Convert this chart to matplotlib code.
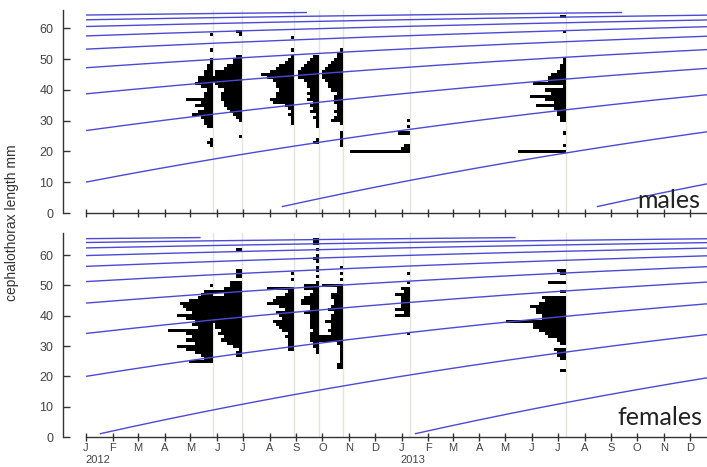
import numpy as np
import matplotlib
matplotlib.use("Agg")
import matplotlib.pyplot as plt
import matplotlib.transforms as mtransforms
import pandas as pd

# ------------------------------------------------------------------ data
ORIGIN = pd.Timestamp("2012-01-01")
SAMPLE_DATES = ["2012-05-27", "2012-06-30", "2012-08-29", "2012-09-27",
                "2012-10-25", "2013-01-11", "2013-07-11"]

# length-frequency (cephalothorax length mm -> count) per sample, males
MALE_HIST = [
    {58: 1, 53: 1, 50: 1, 49: 1, 48: 2, 47: 2, 46: 3, 45: 3, 44: 5, 43: 5, 42: 6, 41: 4,
     40: 2, 39: 3, 38: 3, 37: 9, 36: 4, 35: 6, 34: 3, 33: 5, 32: 7, 31: 4, 30: 3, 29: 3,
     28: 2, 24: 1, 23: 2, 22: 1},
    {59: 2, 58: 1, 51: 2, 50: 3, 49: 3, 48: 5, 47: 6, 46: 9, 45: 9, 44: 10, 43: 10, 42: 9,
     41: 8, 40: 6, 39: 7, 38: 7, 37: 7, 36: 6, 35: 6, 34: 5, 33: 4, 32: 3, 31: 2, 30: 1, 25: 1},
    {57: 1, 53: 1, 51: 1, 50: 2, 49: 3, 48: 5, 47: 6, 46: 8, 45: 11, 44: 9, 43: 7, 42: 6,
     41: 6, 40: 5, 39: 6, 38: 6, 37: 8, 36: 7, 35: 3, 34: 2, 33: 1, 32: 2, 31: 1, 30: 1, 29: 1},
    {51: 2, 50: 3, 49: 4, 48: 5, 47: 6, 46: 7, 45: 7, 44: 7, 43: 5, 42: 4, 41: 4, 40: 3,
     39: 4, 38: 3, 37: 4, 36: 2, 35: 3, 34: 2, 33: 3, 32: 1, 31: 2, 30: 1, 29: 1, 28: 1,
     24: 1, 23: 2},
    {53: 1, 52: 2, 51: 2, 50: 3, 49: 4, 48: 5, 47: 6, 46: 7, 45: 7, 44: 7, 43: 6, 42: 5,
     41: 5, 40: 4, 39: 2, 38: 3, 37: 3, 36: 3, 35: 2, 34: 2, 33: 3, 32: 2, 31: 3, 30: 4,
     29: 1, 26: 1, 25: 1, 24: 1, 23: 1, 22: 1},
    {30: 1, 28: 1, 26: 4, 22: 2, 21: 3, 20: 20},
    {64: 2, 59: 1, 50: 1, 49: 1, 48: 2, 47: 2, 46: 3, 45: 5, 44: 6, 43: 6, 42: 11, 41: 1,
     40: 7, 39: 5, 38: 12, 37: 7, 36: 4, 35: 10, 34: 4, 33: 3, 32: 3, 31: 2, 30: 2,
     26: 1, 22: 1, 20: 16},
]

# length-frequency per sample, females
FEMALE_HIST = [
    {50: 1, 48: 3, 47: 4, 46: 5, 45: 8, 44: 11, 43: 10, 42: 9, 41: 7, 40: 12, 39: 9,
     38: 6, 37: 7, 36: 5, 35: 15, 34: 9, 33: 7, 32: 9, 31: 6, 30: 12, 29: 9, 28: 6,
     27: 4, 26: 3, 25: 8},
    {62: 2, 55: 2, 54: 2, 53: 2, 51: 4, 50: 4, 49: 6, 48: 10, 47: 6, 46: 10, 45: 10,
     44: 10, 43: 10, 42: 10, 41: 10, 40: 10, 39: 10, 38: 10, 37: 9, 36: 9, 35: 7, 34: 8,
     33: 6, 32: 7, 31: 5, 30: 3, 29: 1, 28: 2, 27: 2},
    {54: 1, 52: 1, 49: 9, 48: 2, 47: 3, 46: 6, 45: 7, 44: 9, 43: 5, 42: 3, 41: 6, 40: 5,
     39: 4, 38: 7, 37: 6, 36: 5, 35: 4, 34: 2, 33: 3, 32: 2, 31: 2, 30: 2, 29: 2},
    {65: 2, 64: 2, 62: 1, 60: 1, 59: 2, 58: 1, 56: 1, 55: 1, 53: 1, 51: 1, 50: 5, 49: 5,
     48: 2, 47: 3, 46: 5, 45: 6, 44: 6, 43: 3, 42: 3, 41: 5, 40: 3, 39: 3, 38: 3, 37: 3,
     36: 3, 35: 2, 34: 3, 33: 3, 32: 3, 31: 2, 30: 2, 29: 1, 28: 1},
    {56: 1, 54: 1, 52: 1, 50: 7, 49: 2, 48: 2, 47: 4, 46: 4, 45: 3, 44: 3, 43: 4, 42: 5,
     41: 3, 40: 4, 39: 4, 38: 6, 37: 4, 36: 4, 35: 5, 34: 4, 33: 8, 32: 9, 31: 2, 30: 1,
     29: 1, 28: 1, 27: 1, 26: 1, 25: 1, 24: 2, 23: 2},
    {54: 1, 51: 1, 49: 3, 48: 2, 47: 5, 46: 3, 45: 3, 44: 3, 43: 3, 42: 5, 41: 2, 40: 5, 34: 1},
    {55: 3, 54: 2, 51: 6, 48: 2, 46: 8, 45: 7, 44: 9, 43: 12, 42: 10, 41: 10, 40: 8,
     39: 8, 38: 20, 37: 11, 36: 11, 35: 9, 34: 7, 33: 6, 32: 3, 31: 2, 29: 4, 28: 3,
     27: 3, 26: 2, 22: 2},
]

# von Bertalanffy growth curves (one line per yearly cohort)
MALE_LINF, MALE_K, MALE_A0 = 68.2, 0.34, -0.09
MALE_FIRST_BIRTH, MALE_SPAN_YEARS = "2012-08-15", 9.08
FEMALE_LINF, FEMALE_K, FEMALE_A0 = 68.5, 0.345, -0.045
FEMALE_FIRST_BIRTH, FEMALE_SPAN_YEARS = "2012-01-17", 9.32

Y_TICKS = [0, 10, 20, 30, 40, 50, 60]
MONTH_LETTERS = list("JFMAMJJASOND") * 2
YEAR_LABELS = ["2012", "2013"]
PANEL_NAMES = ["males", "females"]
Y_LABEL = "cephalothorax length mm"

# ------------------------------------------------------------------ style
BLUE = "#4a4ad6"
GREY_V = "#e4e4da"
AX_COL = "#333333"
TXT_COL = "#444444"
DAYS_PER_COUNT = 3.5
FONT = ["Liberation Sans", "DejaVu Sans"]
plt.rcParams["font.family"] = FONT


def day(s):
    return (pd.Timestamp(s) - ORIGIN).days


W, H = 707, 467
fig = plt.figure(figsize=(W / 100, H / 100), dpi=100)

X_LEFT = -26.7
X_RIGHT = 720.0
PX_PER_DAY = 0.8625
ax_px_left, ax_px_right = 63, 707

panels = [
    dict(top=10, bottom=213, ytop=66.0, hist=MALE_HIST, linf=MALE_LINF, k=MALE_K, a0=MALE_A0,
         birth=MALE_FIRST_BIRTH, span=MALE_SPAN_YEARS, name=PANEL_NAMES[0], name_px=637, name_y=1.6),
    dict(top=233, bottom=437, ytop=67.3, hist=FEMALE_HIST, linf=FEMALE_LINF, k=FEMALE_K,
         a0=FEMALE_A0, birth=FEMALE_FIRST_BIRTH, span=FEMALE_SPAN_YEARS, name=PANEL_NAMES[1],
         name_px=617, name_y=4.0),
]

month_starts = pd.date_range("2012-01-01", "2013-12-01", freq="MS")
month_days = [(m - ORIGIN).days for m in month_starts]
sample_days = [day(s) for s in SAMPLE_DATES]

axes = []
for i, p in enumerate(panels):
    ax = fig.add_axes([ax_px_left / W, 1 - p["bottom"] / H,
                       (ax_px_right - ax_px_left) / W, (p["bottom"] - p["top"]) / H])
    axes.append(ax)
    ax.set_xlim(X_LEFT, X_RIGHT)
    ax.set_ylim(0, p["ytop"])

    # sample date lines
    for d in sample_days:
        ax.axvline(d, color=GREY_V, lw=1.0, zorder=1)

    # histograms (bars extend left from the sample date)
    for d, hist in zip(sample_days, p["hist"]):
        lens = np.array(list(hist.keys()), dtype=float)
        cnts = np.array(list(hist.values()), dtype=float)
        ax.barh(lens, -cnts * DAYS_PER_COUNT, left=d, height=1.0,
                color="black", linewidth=0, zorder=2)

    # growth curves
    b0 = day(p["birth"])
    for n in range(-10, 3):
        birth = b0 + n * 365.25
        t0 = max(birth, 0.0)
        t1 = min(birth + p["span"] * 365.25, X_RIGHT + 30)
        if t1 <= t0:
            continue
        t = np.linspace(t0, t1, 200)
        age = (t - birth) / 365.25
        L = p["linf"] * (1 - np.exp(-p["k"] * (age - p["a0"])))
        ax.plot(t, L, color=BLUE, lw=1.0, zorder=3, solid_capstyle="butt")

    # axes styling
    for s in ["top", "right"]:
        ax.spines[s].set_visible(False)
    ax.spines["left"].set_color(AX_COL)
    ax.spines["bottom"].set_color(AX_COL)
    ax.spines["left"].set_linewidth(1.0)
    ax.spines["bottom"].set_linewidth(1.0)
    ax.spines["bottom"].set_bounds(0, X_RIGHT)

    ax.set_yticks(Y_TICKS)
    ax.tick_params(axis="y", direction="in", length=5, width=1, color=AX_COL,
                   labelcolor=TXT_COL, labelsize=9, pad=7)
    ax.set_xticks(month_days)
    ax.tick_params(axis="x", direction="inout", length=6, width=1, color=AX_COL,
                   labelcolor=TXT_COL, labelsize=8, pad=1.5)
    if i == 0:
        ax.set_xticklabels([])
    else:
        ax.set_xticklabels(MONTH_LETTERS)

    ax.text((p["name_px"] - 86) / PX_PER_DAY, p["name_y"], p["name"],
            fontsize=18, family=["Lato", "DejaVu Sans"], color="#222222",
            ha="left", va="baseline", zorder=5)

# year labels below the month letters
trans = mtransforms.blended_transform_factory(axes[1].transData, fig.transFigure)
for yl, d in zip(YEAR_LABELS, [0, 366]):
    axes[1].text(d - 1, 1 - 460 / H, yl, transform=trans, fontsize=8, color=TXT_COL,
                 ha="left", va="center")

fig.text(12 / W, 1 - 223 / H, Y_LABEL, rotation=90, ha="center", va="center",
         fontsize=10, color="#333333")

fig.savefig("out.png", dpi=100)
